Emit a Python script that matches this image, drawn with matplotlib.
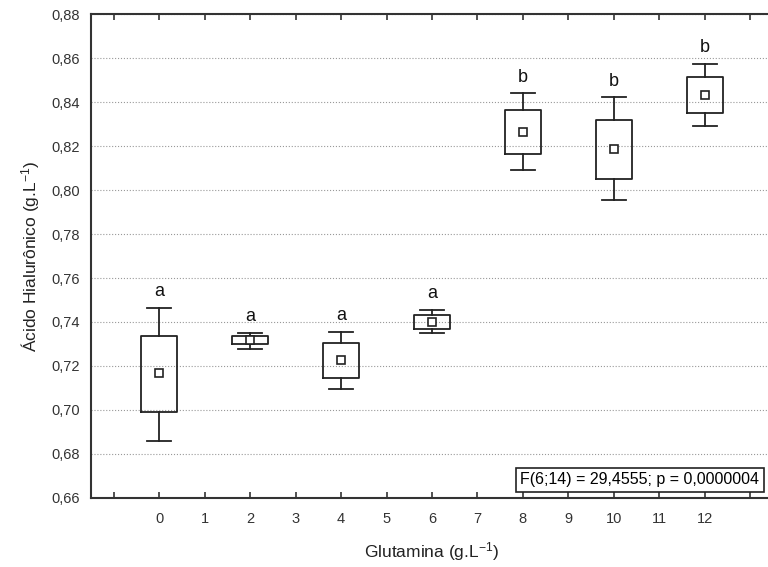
import matplotlib
matplotlib.use('Agg')
import matplotlib.pyplot as plt

plt.rcParams['font.family'] = ['Liberation Sans', 'DejaVu Sans']
plt.rcParams['mathtext.fontset'] = 'custom'
plt.rcParams['mathtext.rm'] = 'Liberation Sans'
plt.rcParams['mathtext.default'] = 'rm'

# data
glutamina = [0, 2, 4, 6, 8, 10, 12]
media = [0.717, 0.7318, 0.7227, 0.7401, 0.8264, 0.8185, 0.8432]
q_sup = [0.7338, 0.7338, 0.7305, 0.7432, 0.8362, 0.8320, 0.8512]
q_inf = [0.6990, 0.7300, 0.7147, 0.7370, 0.8164, 0.8050, 0.8350]
w_sup = [0.7465, 0.7351, 0.7356, 0.7455, 0.8440, 0.8421, 0.8573]
w_inf = [0.6860, 0.7279, 0.7094, 0.7351, 0.8091, 0.7953, 0.8291]
letras = ['a', 'a', 'a', 'a', 'b', 'b', 'b']
yticks = [0.66, 0.68, 0.70, 0.72, 0.74, 0.76, 0.78, 0.80, 0.82, 0.84, 0.86, 0.88]
xticks = list(range(-1, 14))
stat_txt = 'F(6;14) = 29,4555; p = 0,0000004'

fig = plt.figure(figsize=(7.68, 5.67), dpi=100)
ax = fig.add_axes([0.1185, 0.1217, 0.8880, 0.8536])

stats = []
for i in range(len(glutamina)):
    stats.append({'med': media[i], 'mean': media[i], 'q1': q_inf[i], 'q3': q_sup[i],
                  'whislo': w_inf[i], 'whishi': w_sup[i]})
ax.bxp(stats, positions=glutamina, widths=0.8, showmeans=True, showfliers=False,
       boxprops=dict(color='#222222', linewidth=1.3),
       whiskerprops=dict(color='#222222', linewidth=1.3),
       capprops=dict(color='#222222', linewidth=1.3),
       medianprops=dict(linewidth=0),
       meanprops=dict(marker='s', markersize=6, markerfacecolor='white',
                      markeredgecolor='#222222', markeredgewidth=1.2),
       capwidths=0.52, manage_ticks=False, zorder=3)

for x, top, l in zip(glutamina, w_sup, letras):
    ax.text(x, top + 0.0035, l, ha='center', va='bottom', fontsize=13, color='#111111')

ax.set_xlim(-1.5, 13.5)
ax.set_ylim(0.66, 0.88)
ax.set_xticks(xticks)
ax.set_xticklabels([str(t) if 0 <= t <= 12 else '' for t in xticks], fontsize=10.5, color='#333333')
ax.set_yticks(yticks)
ax.set_yticklabels([('%.2f' % t).replace('.', ',') for t in yticks], fontsize=10.5, color='#333333')
ax.tick_params(axis='x', direction='in', top=True, length=4, width=1.2, color='#333333', pad=10)
ax.tick_params(axis='y', length=0, pad=8)
ax.grid(axis='y', linestyle=':', color='#999999', linewidth=0.8)
ax.set_axisbelow(True)
for s in ax.spines.values():
    s.set_linewidth(1.5)
    s.set_color('#333333')

ax.set_xlabel('Glutamina (g.L$^{-1}$)', fontsize=12.5, color='#222222', labelpad=10)
ax.set_ylabel('Ácido Hialurônico (g.L$^{-1}$)', fontsize=12.5, color='#222222', labelpad=7)

ax.text(0.98, 0.022, stat_txt, transform=ax.transAxes, ha='right', va='bottom', fontsize=11.5,
        bbox=dict(boxstyle='square,pad=0.3', facecolor='white', edgecolor='#222222', linewidth=1.2))

fig.savefig('out.png', dpi=100)
